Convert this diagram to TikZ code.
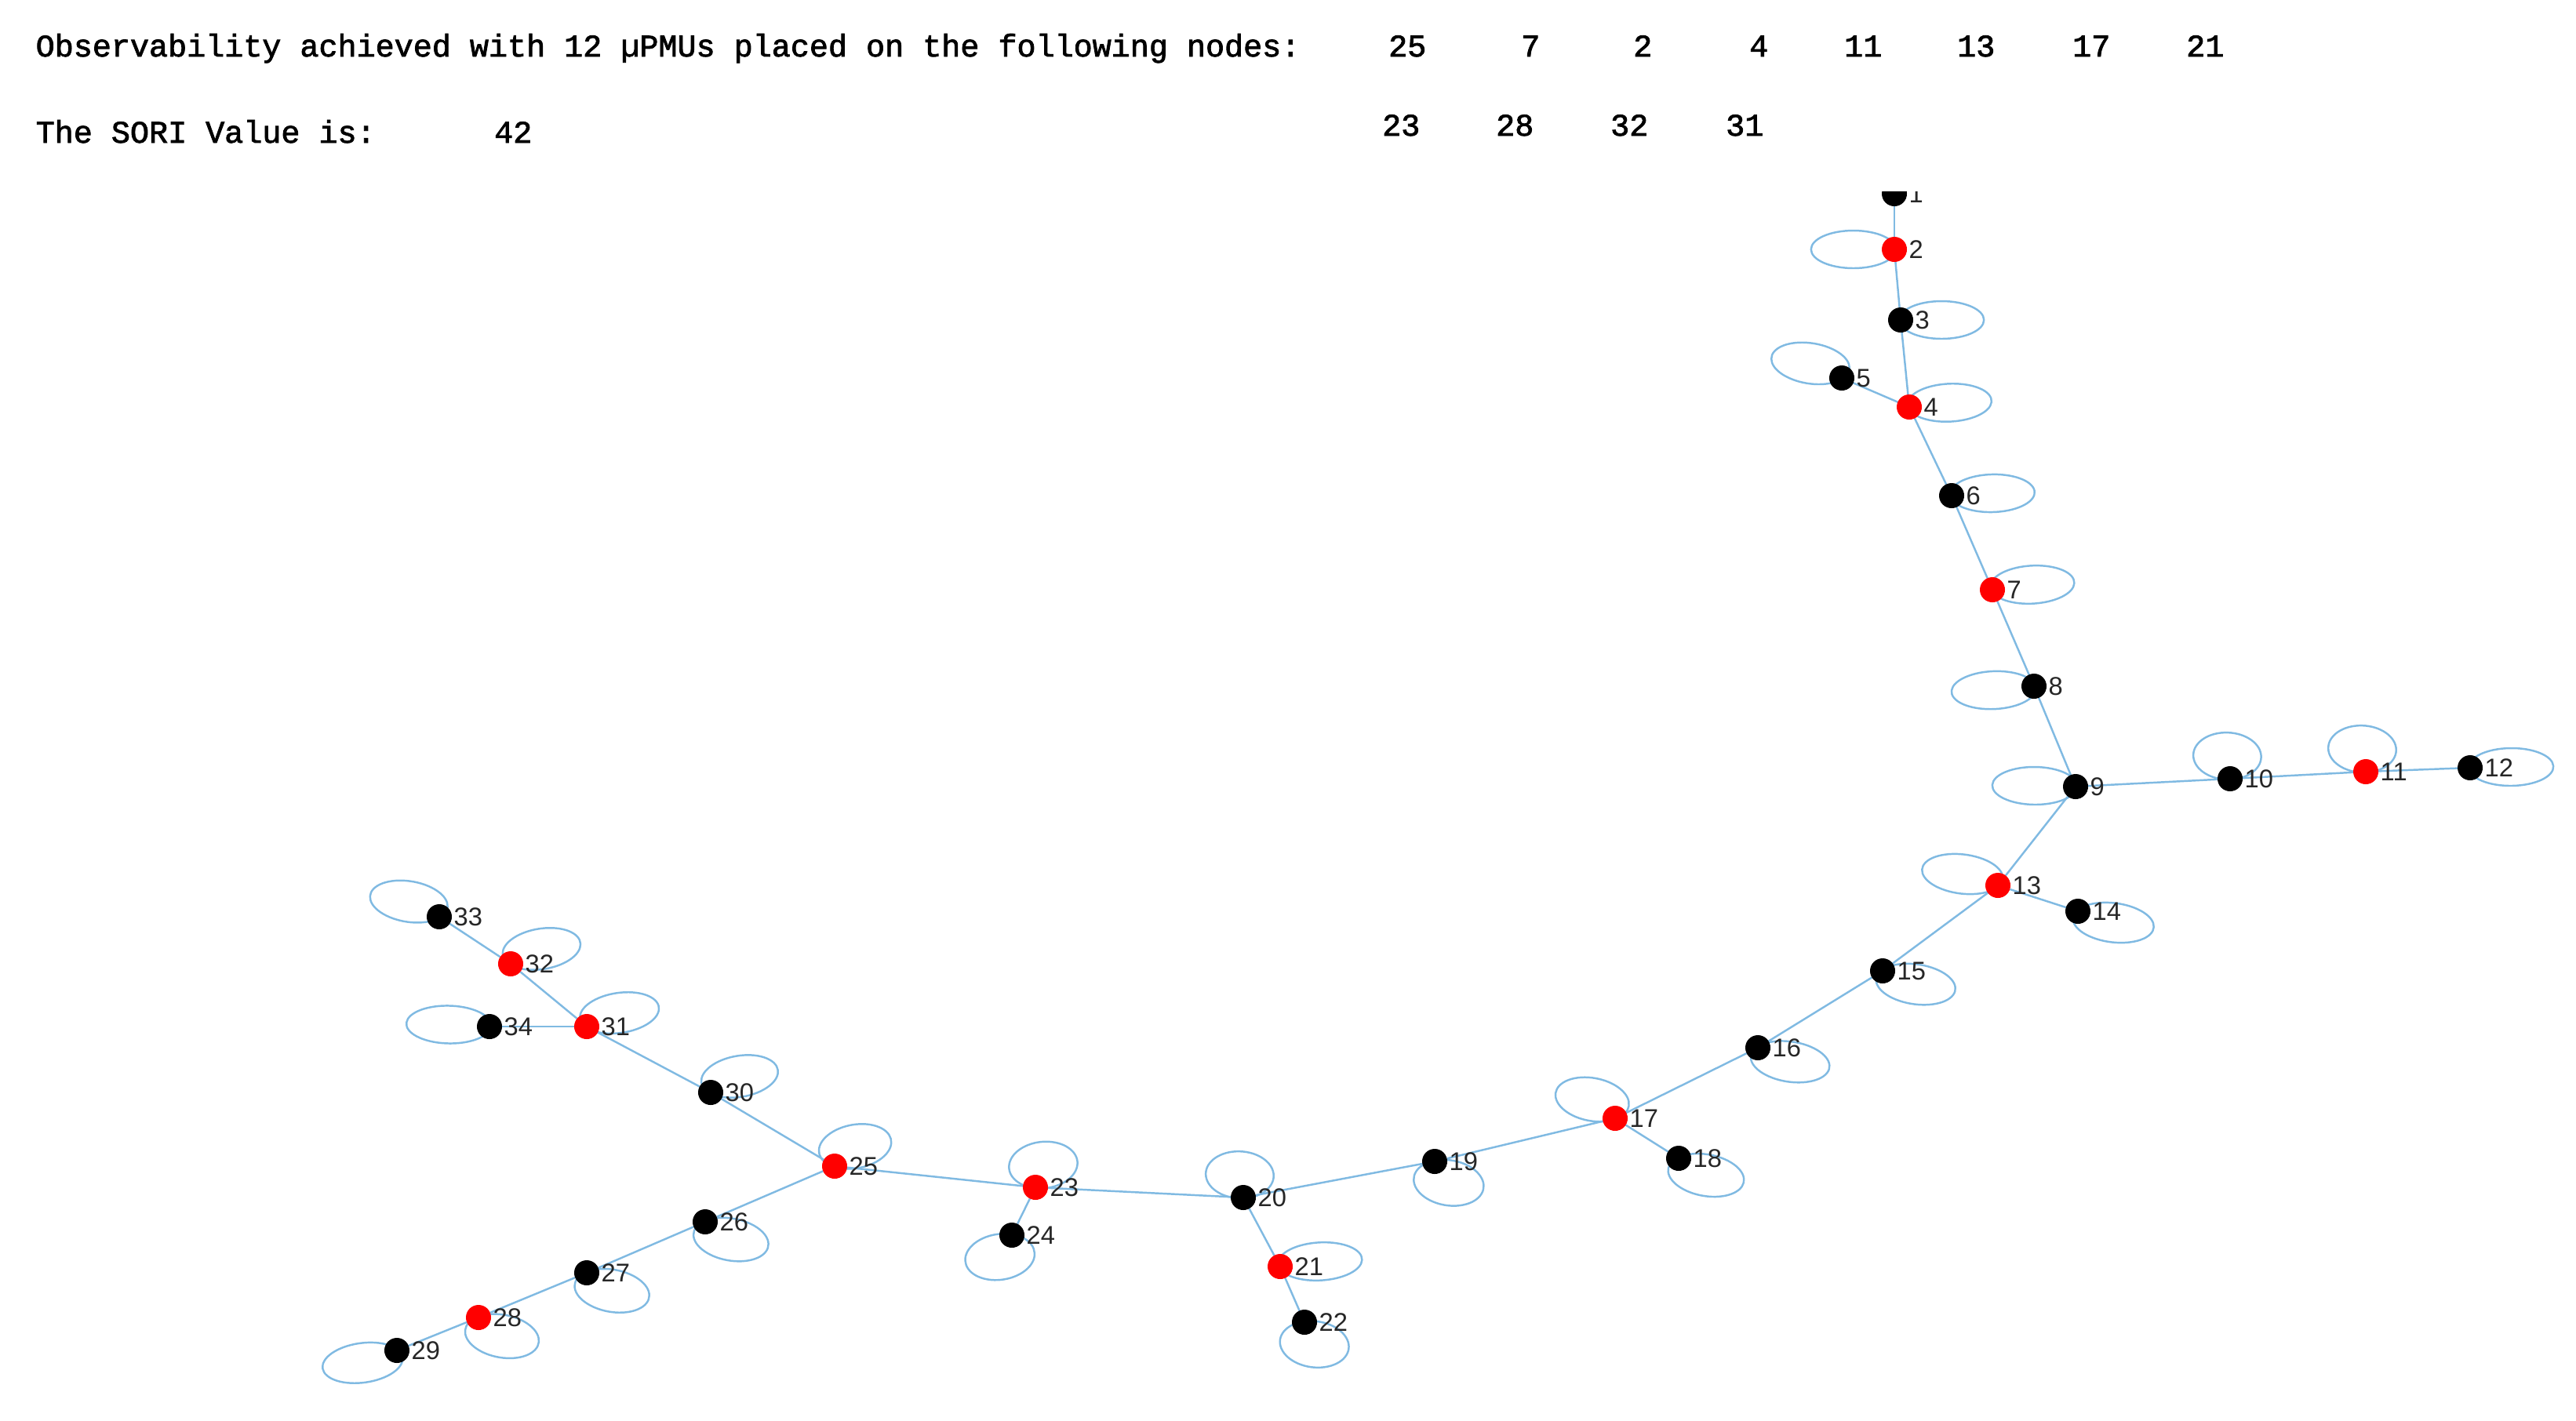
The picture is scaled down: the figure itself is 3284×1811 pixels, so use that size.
\documentclass[tikz,border=0pt]{standalone}
\usepackage{fontspec}
\setmainfont{Liberation Sans}
\newfontfamily\monof[FakeBold=2]{Liberation Mono}
\definecolor{edgeblue}{RGB}{128,186,226}
\definecolor{labgray}{RGB}{38,38,38}
\pgfdeclarelayer{bg}
\pgfsetlayers{bg,main}
\newcommand{\selfloop}[2]{\draw[lp, shift={(#1)}, xscale=1.8, rotate=-#2] (29,0) ellipse (30 and 24);}
\begin{document}
\begin{tikzpicture}[x=0.01cm,y=-0.01cm,
  vtx/.style={circle,inner sep=0pt,outer sep=0pt,minimum size=0.32cm},
  bk/.style={vtx,fill=black},
  rd/.style={vtx,fill=red},
  lab/.style={font=\fontsize{9.3pt}{10pt}\selectfont,text=labgray,inner sep=0pt},
  label distance=0.02cm,
  every label/.style={lab},
  ed/.style={draw=edgeblue,line width=0.7pt},
  lp/.style={draw=edgeblue,line width=0.7pt},
  hdr/.style={font=\monof\fontsize{11.4pt}{13pt}\selectfont,inner sep=0pt,text=black}]
\useasboundingbox (0,0) rectangle (3284,1811);

% header
\node[hdr,anchor=base west] (t1) at (45,72) {Observability achieved with 12 µPMUs placed on the following nodes:};
\node[hdr,anchor=base west] (t2) at (45,182) {The SORI Value is:};
\node[hdr,anchor=base east] (v42) at (679,182) {42};
\node[hdr,anchor=base east] (p1) at (1819,72) {25};
\node[hdr,anchor=base east] (p2) at (1964,72) {7};
\node[hdr,anchor=base east] (p3) at (2107,72) {2};
\node[hdr,anchor=base east] (p4) at (2255,72) {4};
\node[hdr,anchor=base east] (p5) at (2400,72) {11};
\node[hdr,anchor=base east] (p6) at (2544,72) {13};
\node[hdr,anchor=base east] (p7) at (2691,72) {17};
\node[hdr,anchor=base east] (p8) at (2836,72) {21};
\node[hdr,anchor=base east] (p9) at (1811,173) {23};
\node[hdr,anchor=base east] (p10) at (1956,173) {28};
\node[hdr,anchor=base east] (p11) at (2102,173) {32};
\node[hdr,anchor=base east] (p12) at (2249,173) {31};

% vertices
\begin{scope}
\clip (0,244) rectangle (3284,1811);
\node[bk,label=east:1] (n1) at (2415,247) {};
\end{scope}
\node[rd,label=east:2] (n2) at (2415,318) {};
\node[bk,label=east:3] (n3) at (2423,408) {};
\node[rd,label=east:4] (n4) at (2434,519) {};
\node[bk,label=east:5] (n5) at (2348,482) {};
\node[bk,label=east:6] (n6) at (2488,632) {};
\node[rd,label=east:7] (n7) at (2540,752) {};
\node[bk,label=east:8] (n8) at (2593,875) {};
\node[bk,label=east:9] (n9) at (2646,1003) {};
\node[bk,label=east:10] (n10) at (2843,993) {};
\node[rd,label=east:11] (n11) at (3016,984) {};
\node[bk,label=east:12] (n12) at (3149,979) {};
\node[rd,label=east:13] (n13) at (2547,1129) {};
\node[bk,label=east:14] (n14) at (2649,1162) {};
\node[bk,label=east:15] (n15) at (2400,1238) {};
\node[bk,label=east:16] (n16) at (2241,1336) {};
\node[rd,label=east:17] (n17) at (2059,1426) {};
\node[bk,label=east:18] (n18) at (2140,1477) {};
\node[bk,label=east:19] (n19) at (1829,1481) {};
\node[bk,label=east:20] (n20) at (1585,1527) {};
\node[rd,label=east:21] (n21) at (1632,1615) {};
\node[bk,label=east:22] (n22) at (1663,1686) {};
\node[rd,label=east:23] (n23) at (1320,1514) {};
\node[bk,label=east:24] (n24) at (1290,1575) {};
\node[rd,label=east:25] (n25) at (1064,1487) {};
\node[bk,label=east:26] (n26) at (899,1558) {};
\node[bk,label=east:27] (n27) at (748,1623) {};
\node[rd,label=east:28] (n28) at (610,1680) {};
\node[bk,label=east:29] (n29) at (506,1722) {};
\node[bk,label=east:30] (n30) at (906,1393) {};
\node[rd,label=east:31] (n31) at (748,1309) {};
\node[rd,label=east:32] (n32) at (651,1229) {};
\node[bk,label=east:33] (n33) at (560,1169) {};
\node[bk,label=east:34] (n34) at (624,1309) {};

\begin{pgfonlayer}{bg}
% edges
\draw[ed] (n1) -- (n2);
\draw[ed] (n2) -- (n3);
\draw[ed] (n3) -- (n4);
\draw[ed] (n4) -- (n5);
\draw[ed] (n4) -- (n6);
\draw[ed] (n6) -- (n7);
\draw[ed] (n7) -- (n8);
\draw[ed] (n8) -- (n9);
\draw[ed] (n9) -- (n10);
\draw[ed] (n10) -- (n11);
\draw[ed] (n11) -- (n12);
\draw[ed] (n9) -- (n13);
\draw[ed] (n13) -- (n14);
\draw[ed] (n13) -- (n15);
\draw[ed] (n15) -- (n16);
\draw[ed] (n16) -- (n17);
\draw[ed] (n17) -- (n18);
\draw[ed] (n17) -- (n19);
\draw[ed] (n19) -- (n20);
\draw[ed] (n20) -- (n21);
\draw[ed] (n21) -- (n22);
\draw[ed] (n20) -- (n23);
\draw[ed] (n23) -- (n24);
\draw[ed] (n23) -- (n25);
\draw[ed] (n25) -- (n26);
\draw[ed] (n26) -- (n27);
\draw[ed] (n27) -- (n28);
\draw[ed] (n28) -- (n29);
\draw[ed] (n25) -- (n30);
\draw[ed] (n30) -- (n31);
\draw[ed] (n31) -- (n32);
\draw[ed] (n32) -- (n33);
\draw[ed] (n31) -- (n34);
% self loops (angles clockwise from right, y down)
\selfloop{n2}{180}
\selfloop{n3}{0}
\selfloop{n4}{349}
\selfloop{n5}{220}
\selfloop{n6}{354}
\selfloop{n7}{347}
\selfloop{n8}{170}
\selfloop{n9}{182}
\selfloop{n10}{266}
\selfloop{n11}{265}
\selfloop{n12}{358}
\selfloop{n13}{210}
\selfloop{n14}{30}
\selfloop{n15}{36}
\selfloop{n16}{38}
\selfloop{n17}{236}
\selfloop{n18}{48}
\selfloop{n19}{70}
\selfloop{n20}{265}
\selfloop{n21}{347}
\selfloop{n22}{76}
\selfloop{n23}{281}
\selfloop{n24}{107}
\selfloop{n25}{300}
\selfloop{n26}{51}
\selfloop{n27}{52}
\selfloop{n28}{55}
\selfloop{n29}{147}
\selfloop{n30}{315}
\selfloop{n31}{323}
\selfloop{n32}{319}
\selfloop{n33}{222}
\selfloop{n34}{185}
\end{pgfonlayer}
\end{tikzpicture}
\end{document}
